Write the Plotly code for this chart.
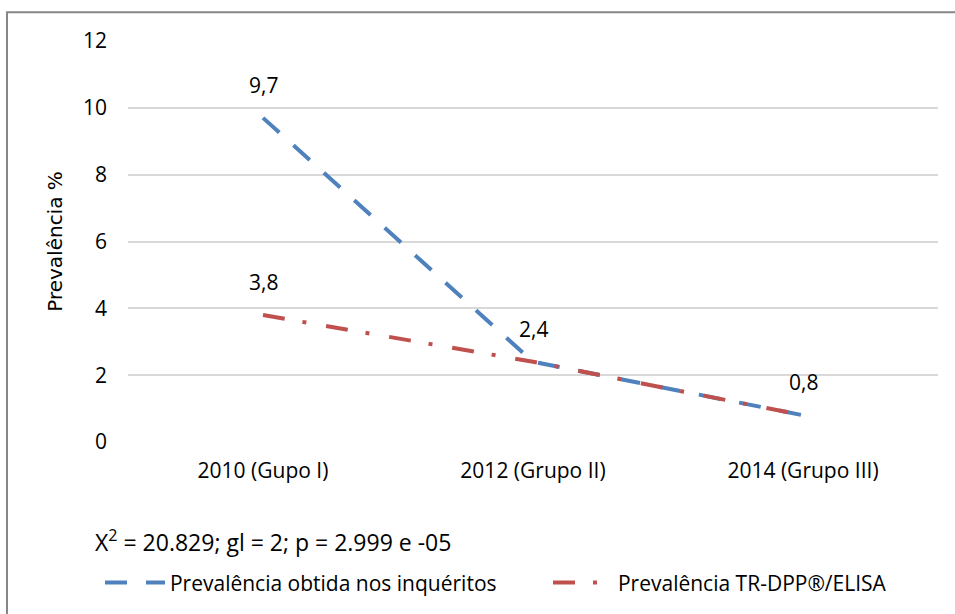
import plotly.graph_objects as go

categories = ["2010 (Gupo I)", "2012 (Grupo II)", "2014 (Grupo III)"]
inqueritos = [9.7, 2.4, 0.8]
tr_dpp = [3.8, 2.4, 0.8]
y_ticks = [0, 2, 4, 6, 8, 10, 12]
series_names = ["Prevalência obtida nos inquéritos", "Prevalência TR-DPP®/ELISA"]
stat_text = "X<sup>2</sup> = 20.829; gl = 2; p = 2.999 e -05"

BLUE = "#4F81BD"
RED = "#C0504D"
FONT = "Open Sans"

fig = go.Figure()
fig.add_trace(go.Scatter(
    x=categories, y=inqueritos, mode="lines", name=series_names[0], legend="legend",
    line=dict(color=BLUE, width=4, dash="22px,19px"),
))
fig.add_trace(go.Scatter(
    x=categories, y=tr_dpp, mode="lines", name=series_names[1], legend="legend2",
    line=dict(color=RED, width=4, dash="22px,18px,4px,20px"),
))

def fmt(v):
    return f"{v:.1f}".replace(".", ",")

for i, c in enumerate(categories):
    fig.add_annotation(x=c, y=inqueritos[i], text=fmt(inqueritos[i]), showarrow=False,
                       yshift=33, font=dict(family=FONT, size=21, color="#000"))
    if tr_dpp[i] != inqueritos[i]:
        fig.add_annotation(x=c, y=tr_dpp[i], text=fmt(tr_dpp[i]), showarrow=False,
                           yshift=33, font=dict(family=FONT, size=21, color="#000"))

fig.add_annotation(xref="paper", yref="paper", x=-0.0432, y=-0.246, xanchor="left",
                   yanchor="middle", text=stat_text, showarrow=False,
                   font=dict(family=FONT, size=23, color="#000"))

fig.add_shape(type="rect", xref="paper", yref="paper", x0=-0.1494, x1=1.03, y0=-0.45, y1=1.072,
              line=dict(color="#868686", width=2), fillcolor="rgba(0,0,0,0)", layer="below")

legend_common = dict(orientation="h", y=-0.348, xanchor="left", yanchor="middle",
                     font=dict(family=FONT, size=21, color="#000"),
                     itemwidth=60, bgcolor="rgba(0,0,0,0)")

fig.update_layout(
    width=955, height=614,
    margin=dict(l=128, r=17, t=41, b=171),
    paper_bgcolor="white", plot_bgcolor="white",
    font=dict(family=FONT, size=21, color="#000"),
    showlegend=True,
    legend=dict(x=-0.0346, **legend_common),
    legend2=dict(x=0.5185, **legend_common),
    xaxis=dict(type="category", range=[-0.5, 2.5], showgrid=False, zeroline=False,
               showline=False, ticks="", ticklabelstandoff=14,
               tickfont=dict(family=FONT, size=21, color="#000")),
    yaxis=dict(range=[0, 12], tickvals=y_ticks, showgrid=True, gridcolor="#D9D9D9",
               gridwidth=1.5, zeroline=False, showline=False, ticks="",
               ticklabelstandoff=20,
               tickfont=dict(family=FONT, size=21, color="#000")),
)
fig.update_yaxes(title=dict(text="Prevalência %", standoff=14,
                            font=dict(family="DejaVu Sans", size=20, color="#000")))

fig.write_html("out.html", config={"displayModeBar": False},
               post_script="document.body.style.margin='0px';")
